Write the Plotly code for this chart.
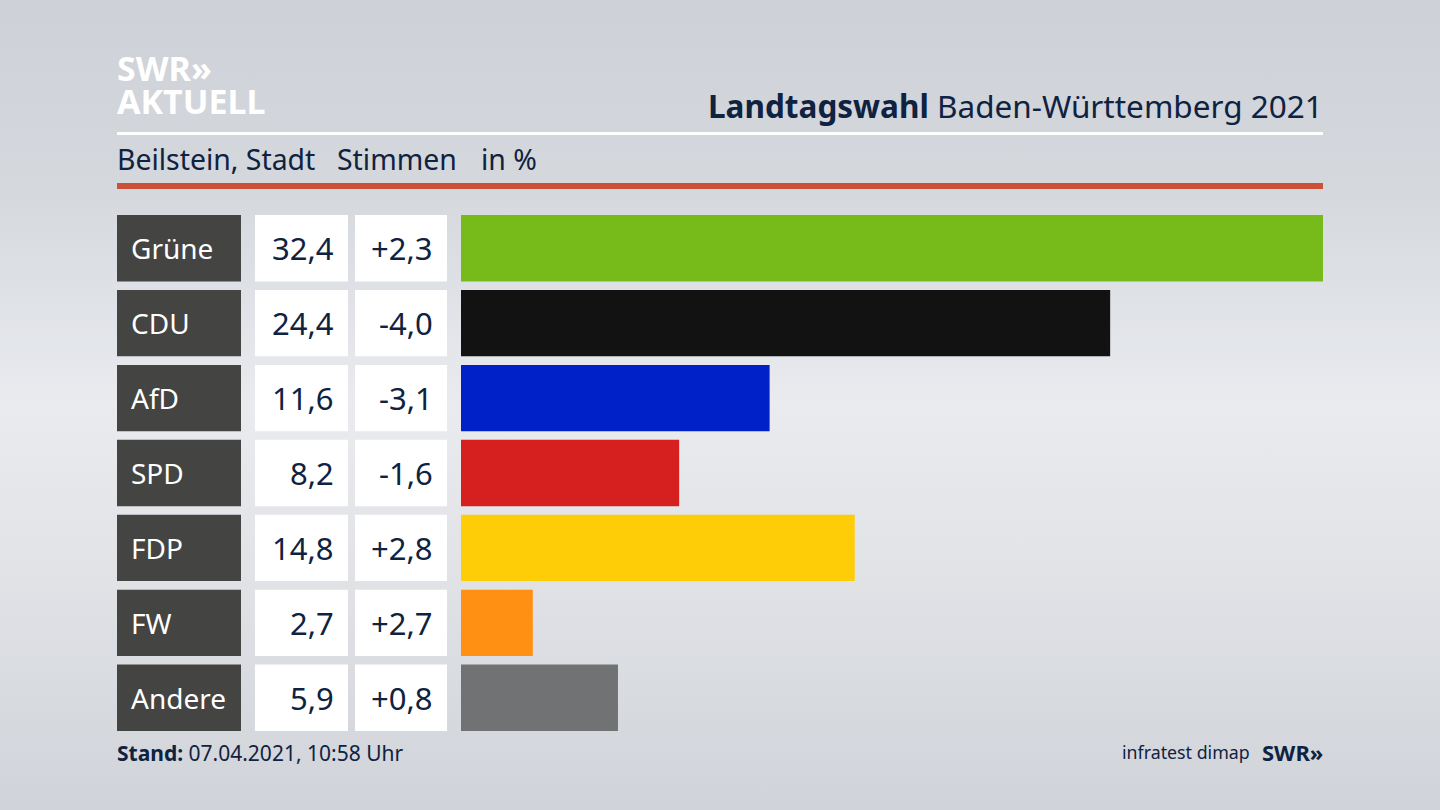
import plotly.graph_objects as go

# Daten
parteien = ['Grüne', 'CDU', 'AfD', 'SPD', 'FDP', 'FW', 'Andere']
stimmen = [32.4, 24.4, 11.6, 8.2, 14.8, 2.7, 5.9]
diff = [2.3, -4.0, -3.1, -1.6, 2.8, 2.7, 0.8]
farben = ['#76bb19', '#121212', '#0021c8', '#d61f1f', '#ffcc08', '#ff9014', '#717274']

DUNKEL = '#0f2240'
FONT = 'Noto Sans'


def px(x):
    return x / 1440


def py(y):
    return 1 - y / 810


def de(wert, vorzeichen=False):
    text = f'{wert:+.1f}' if vorzeichen else f'{wert:.1f}'
    return text.replace('.', ',')


fig = go.Figure(go.Bar(x=stimmen, y=parteien, orientation='h', marker_color=farben,
                       marker_line_width=0, hoverinfo='skip'))

shapes = []
annotations = []

# Spalten links neben den Balken
for p, s, d in zip(parteien, stimmen, diff):
    idx = parteien.index(p)
    for x0, x1, farbe in [(117, 241, '#444442'), (255, 348, 'white'), (355, 447, 'white')]:
        shapes.append(dict(type='rect', xref='paper', yref='y', x0=px(x0), x1=px(x1),
                           y0=idx - 0.443, y1=idx + 0.443, fillcolor=farbe, line_width=0))
    annotations.append(dict(x=px(129), y=p, xref='paper', yref='y', text=p, showarrow=False,
                            xanchor='left', font=dict(size=28, color='white', family=FONT)))
    annotations.append(dict(x=px(336), y=p, xref='paper', yref='y', text=de(s), showarrow=False,
                            xanchor='right', font=dict(size=31, color=DUNKEL, family=FONT)))
    annotations.append(dict(x=px(435), y=p, xref='paper', yref='y', text=de(d, True), showarrow=False,
                            xanchor='right', font=dict(size=31, color=DUNKEL, family=FONT)))

# Linien im Kopf
shapes.append(dict(type='rect', xref='paper', yref='paper', x0=px(117), x1=px(1323),
                   y0=py(135), y1=py(132), fillcolor='white', line_width=0))
shapes.append(dict(type='rect', xref='paper', yref='paper', x0=px(117), x1=px(1323),
                   y0=py(189), y1=py(183), fillcolor='#cc5138', line_width=0))


def text(x, y, inhalt, size, farbe=DUNKEL, anchor='left', hoehe=None):
    annotations.append(dict(x=px(x), y=py(y), xref='paper', yref='paper', text=inhalt, showarrow=False,
                            xanchor=anchor, yanchor='middle', height=hoehe,
                            font=dict(size=size, color=farbe, family=FONT)))


text(115, 68, '<b>SWR»</b>', 34, 'white', hoehe=30)
text(115, 101, '<b>AKTUELL</b>', 34, 'white', hoehe=30)
text(1325, 105, '<b>Landtagswahl</b> Baden-Württemberg 2021', 31.5, anchor='right')
text(115, 159, 'Beilstein, Stadt', 28.4)
text(335, 159, 'Stimmen', 28.4)
text(479, 159, 'in %', 28.4)
text(115, 753, '<b>Stand:</b> 07.04.2021, 10:58 Uhr', 21)
text(1120, 752, 'infratest dimap', 17.8)
text(1325, 752, '<b>SWR»</b>', 22, anchor='right')

fig.update_layout(
    width=1440, height=810, autosize=False,
    margin=dict(l=0, r=0, t=0, b=0),
    paper_bgcolor='rgba(0,0,0,0)', plot_bgcolor='rgba(0,0,0,0)',
    showlegend=False, bargap=0.114,
    shapes=shapes, annotations=annotations,
    xaxis=dict(domain=[px(461), px(1323)], range=[0, 32.4], visible=False),
    yaxis=dict(domain=[py(735.25), py(210.75)], autorange='reversed', visible=False),
)

# Hintergrundverlauf der Seite
hintergrund = ("document.body.style.margin='0';"
               "document.body.style.background='linear-gradient(180deg,#ced1d7 0%,#d4d7dc 22%,"
               "#e9ebef 50%,#e0e2e6 72%,#d0d3d9 100%)';")
fig.write_html("out.html", post_script=hintergrund, config={'displayModeBar': False})
